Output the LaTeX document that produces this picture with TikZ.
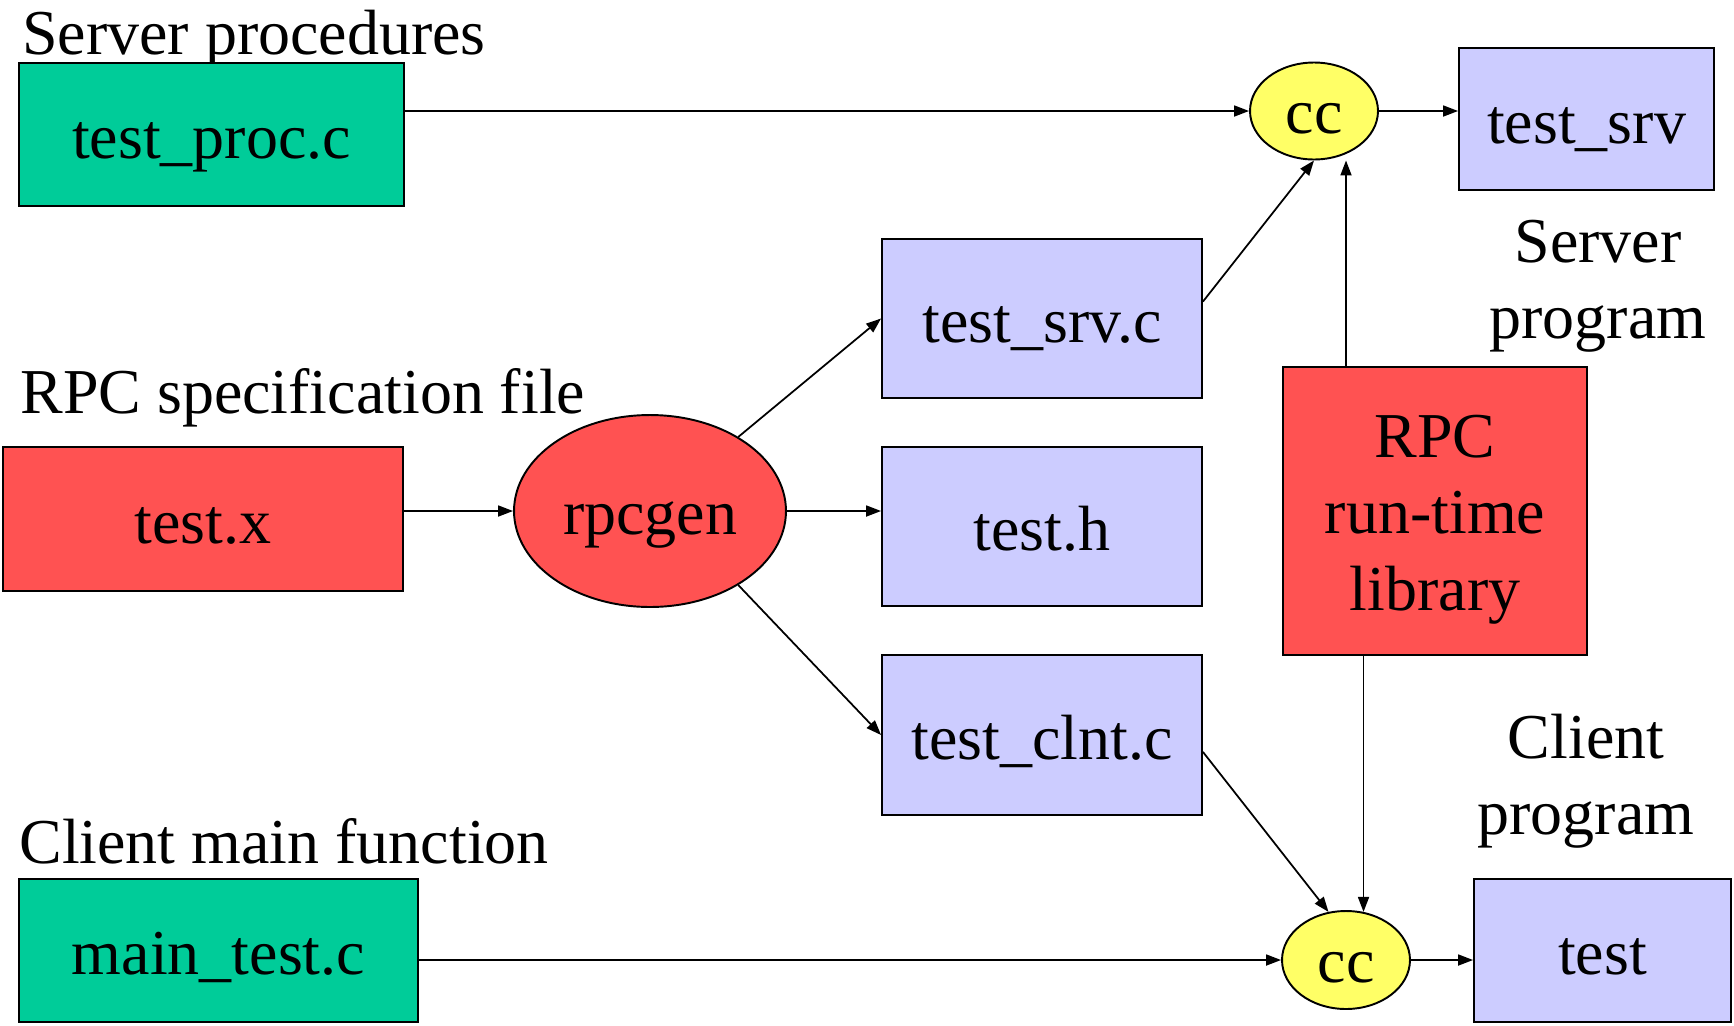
\documentclass[tikz,border=0pt]{standalone}
\usepackage{fontspec}
\setmainfont{Liberation Serif}
\usetikzlibrary{shapes.geometric,arrows.meta}
\definecolor{srcgreen}{RGB}{0,204,153}
\definecolor{genblue}{RGB}{204,204,255}
\definecolor{rpcred}{RGB}{255,82,82}
\definecolor{ccyellow}{RGB}{255,255,102}

\begin{document}
\begin{tikzpicture}[x=0.02cm,y=-0.02cm,font=\fontsize{36.4pt}{43.5pt}\selectfont,
			box/.style={draw,line width=1.1pt,inner sep=0pt,text height=27.5pt,text depth=0pt,minimum height=2.86cm},
			src/.style={box,fill=srcgreen},gen/.style={box,fill=genblue,minimum width=6.4cm,minimum height=3.18cm},
			cc/.style={ellipse,draw,line width=1.1pt,fill=ccyellow,inner sep=0pt,text height=25.5pt,text depth=0pt,minimum width=2.56cm,minimum height=1.94cm},
			lbl/.style={anchor=base west,inner sep=0pt},
			arr/.style={line width=1pt,-{Triangle[length=0.3cm,width=0.22cm]}}]
\useasboundingbox (0,0) rectangle (1734,1025);
\node[lbl] (lsrv) at (22,54) {Server procedures};
\node[src,minimum width=7.7cm] (tproc) at (211.5,134.5) {test\_proc.c};
\node[cc] (cc1) at (1314,111) {cc};
\node[box,fill=genblue,minimum width=5.1cm,minimum height=2.84cm] (tsrv) at (1586.5,119) {test\_srv};
\node[align=center] (psrv) at (1598,286) {Server\\program};
\node[gen] (tsrvc) at (1042,318.5) {test\_srv.c};
\node[lbl] (lspec) at (20,413) {RPC specification file};
\node[box,fill=rpcred,minimum width=8cm,minimum height=2.88cm] (tx) at (203,519) {test.x};
\node[ellipse,draw,line width=1.1pt,fill=rpcred,inner sep=0pt,text height=27pt,text depth=0pt,minimum width=5.44cm,minimum height=3.84cm] (rpcgen) at (650,511) {rpcgen};
\node[gen] (th) at (1042,526.5) {test.h};
\node[draw,line width=1.1pt,fill=rpcred,inner sep=0pt,align=center,minimum width=6.08cm,minimum height=5.76cm] (lib) at (1435,511) {\rule{0pt}{34pt}RPC\\run-time\\library};
\node[gen,minimum height=3.2cm] (tclnt) at (1042,735) {test\_clnt.c};
\node[align=center] (pclnt) at (1586,781) {Client\\program};
\node[lbl] (lmain) at (19,863) {Client main function};
\node[src,minimum width=7.98cm] (mtest) at (218.5,950.5) {main\_test.c};
\node[cc,minimum height=1.96cm] (cc2) at (1346,960) {cc};
\node[box,fill=genblue,minimum width=5.14cm] (tst) at (1602.5,950.5) {test};

\draw[arr] (cc1 -| tproc.east) -- (cc1.west);
\draw[arr] (cc1.east) -- (cc1.east -| tsrv.west);
\draw[arr] (tsrvc.6) -- (cc1.south);
\draw[arr] (lib.north -| cc2) -- (cc1.south -| cc2);
\draw[arr] (rpcgen -| tx.east) -- (rpcgen.west);
\draw[arr] (rpcgen.40) -- (tsrvc.west);
\draw[arr] (rpcgen.east) -- (rpcgen.east -| th.west);
\draw[arr] (rpcgen.-40) -- (tclnt.west);
\draw[arr] (tclnt.-6) -- (cc2.110);
\draw[arr] (lib.south -| cc2.70) -- (cc2.70);
\draw[arr] (cc2 -| mtest.east) -- (cc2.west);
\draw[arr] (cc2.east) -- (cc2.east -| tst.west);
\end{tikzpicture}
\end{document}
